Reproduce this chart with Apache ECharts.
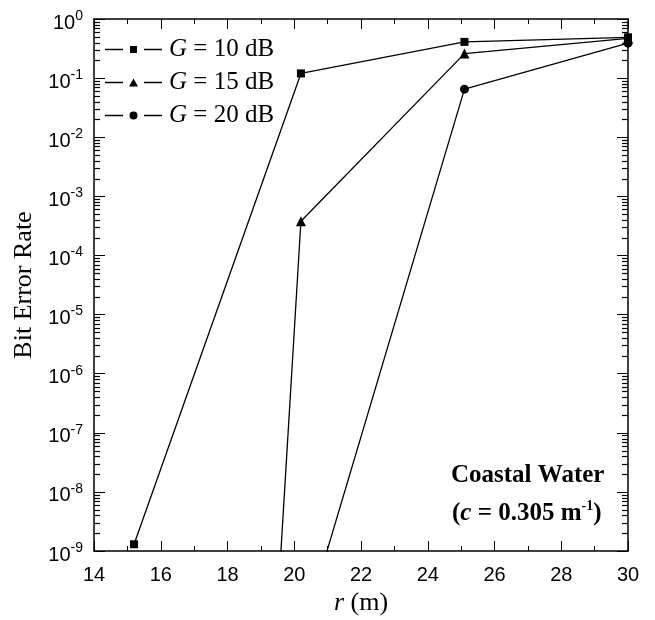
<!DOCTYPE html>
<html>
<head>
<meta charset="utf-8">
<script src="https://cdn.jsdelivr.net/npm/echarts@6/dist/echarts.min.js"></script>
<style>
  html, body { margin: 0; padding: 0; background: #fff; }
  #chart { width: 655px; height: 620px; }
</style>
</head>
<body>
<div id="chart"></div>
<script>
// distance r (m)
const rG10 = [15.2, 20.2, 25.1, 30]
const berG10 = [1.3e-9, 0.12, 0.41, 0.49]

const rG15 = [15.2, 20.2, 25.1, 30]
const berG15 = [1e-50, 3.8e-4, 0.26, 0.47]

const rG20 = [15.2, 20.2, 25.1, 30]
const berG20 = [1e-40, 3.3e-11, 0.065, 0.39]

const seriesNames = ['G = 10 dB', 'G = 15 dB', 'G = 20 dB']

const serif = '"Liberation Serif", "Times New Roman", serif'
const sans = '"Liberation Sans", Arial, sans-serif'

// legend icons: dash, symbol, dash
const iconRect = 'path://M0,3.3h18v1.4h-18z M25,0.5h7v7h-7z M39,3.3h18v1.4h-18z'
const iconTri = 'path://M0,3.3h18v1.4h-18z M28.5,0L33,8L24,8z M39,3.3h18v1.4h-18z'
const iconCircle = 'path://M0,3.3h18v1.4h-18z M24.5,4a4,4 0 1,0 8,0a4,4 0 1,0 -8,0z M39,3.3h18v1.4h-18z'

const chart = echarts.init(document.getElementById('chart'))

const pairs = (xs, ys) => xs.map((x, i) => [x, ys[i]])

const lineSeries = (name, data, symbol, size) => ({
  name,
  type: 'line',
  data,
  symbol,
  symbolSize: size,
  showAllSymbol: true,
  lineStyle: { color: '#000', width: 1.3 },
  itemStyle: { color: '#000' },
  emphasis: { disabled: true }
})

const axisLine = { show: true, lineStyle: { color: '#000', width: 1.5 } }

const option = {
  animation: false,
  grid: { left: 94, right: 27, top: 19, bottom: 69, outerBoundsMode: 'none' },
  legend: {
    left: 100,
    top: 32,
    orient: 'vertical',
    itemWidth: 57,
    itemHeight: 8,
    itemGap: 8,
    data: [
      { name: seriesNames[0], icon: iconRect },
      { name: seriesNames[1], icon: iconTri },
      { name: seriesNames[2], icon: iconCircle }
    ],
    formatter: (name) => '{i|G}{t|' + name.slice(1) + '}',
    textStyle: {
      rich: {
        i: { fontFamily: serif, fontStyle: 'italic', fontSize: 25, color: '#000', padding: [0, 0, 0, 2] },
        t: { fontFamily: serif, fontSize: 25, color: '#000' }
      }
    }
  },
  xAxis: [
    {
      type: 'value',
      min: 14,
      max: 30,
      interval: 2,
      name: '{i|r} (m)',
      nameLocation: 'middle',
      nameGap: 38,
      nameTextStyle: {
        fontFamily: serif,
        fontSize: 26,
        color: '#000',
        rich: { i: { fontFamily: serif, fontSize: 26, fontStyle: 'italic', color: '#000' } }
      },
      axisLine,
      axisTick: { show: true, inside: true, length: 10 },
      minorTick: { show: true, splitNumber: 2, length: 5 },
      splitLine: { show: false },
      axisLabel: { fontFamily: sans, fontSize: 20, color: '#000', margin: 14 }
    },
    {
      type: 'value',
      position: 'top',
      min: 14,
      max: 30,
      interval: 2,
      axisLine,
      axisTick: { show: true, inside: true, length: 10 },
      minorTick: { show: true, splitNumber: 2, length: 5 },
      splitLine: { show: false },
      axisLabel: { show: false }
    }
  ],
  yAxis: [
    {
      type: 'log',
      logBase: 10,
      min: 1e-9,
      max: 1,
      interval: 1,
      name: 'Bit Error Rate',
      nameLocation: 'middle',
      nameGap: 51,
      nameTextStyle: { fontFamily: serif, fontSize: 26, color: '#000' },
      axisLine,
      axisTick: { show: true, inside: true, length: 11 },
      splitLine: { show: false },
      axisLabel: {
        margin: 11,
        formatter: (v) => '{b|10}{s|' + Math.round(Math.log10(v)) + '}',
        rich: {
          b: { fontFamily: sans, fontSize: 20, color: '#000', padding: [8, 0, 0, 0] },
          s: { fontFamily: sans, fontSize: 14, color: '#000', padding: [0, 0, 6, 0] }
        }
      }
    },
    {
      type: 'log',
      logBase: 10,
      position: 'right',
      min: 1e-9,
      max: 1,
      interval: 1,
      axisLine,
      axisTick: { show: true, inside: true, length: 11 },
      splitLine: { show: false },
      axisLabel: { show: false }
    }
  ],
  series: [
    lineSeries(seriesNames[0], pairs(rG10, berG10), 'rect', 8),
    lineSeries(seriesNames[1], pairs(rG15, berG15), 'triangle', 10),
    lineSeries(seriesNames[2], pairs(rG20, berG20), 'circle', 9)
  ]
}

chart.setOption(option)

// log-spaced minor ticks (2..9 per decade) on both y axes
const gridLeft = 94
const gridRight = 655 - 27
const extra = []
for (let k = -9; k < 0; k++) {
  for (let m = 2; m <= 9; m++) {
    const y = Math.round(chart.convertToPixel({ yAxisIndex: 0 }, m * Math.pow(10, k))) + 0.5
    extra.push({
      type: 'line',
      z: 50,
      shape: { x1: gridLeft, y1: y, x2: gridLeft + 6, y2: y },
      style: { stroke: '#000', lineWidth: 1.2 }
    })
    extra.push({
      type: 'line',
      z: 50,
      shape: { x1: gridRight - 6, y1: y, x2: gridRight, y2: y },
      style: { stroke: '#000', lineWidth: 1.2 }
    })
  }
}

extra.push({
  type: 'text',
  left: 451,
  top: 463,
  style: {
    text: '{b|Coastal Water}',
    rich: { b: { fontFamily: serif, fontSize: 25, fontWeight: 'bold', fill: '#000' } }
  }
})
extra.push({
  type: 'text',
  left: 452,
  top: 499,
  style: {
    text: '{b|(}{i|c}{b| = 0.305 m}{s|-1}{b|)}',
    rich: {
      b: { fontFamily: serif, fontSize: 25, fontWeight: 'bold', fill: '#000', padding: [7, 0, 0, 0] },
      i: { fontFamily: serif, fontSize: 25, fontWeight: 'bold', fontStyle: 'italic', fill: '#000', padding: [7, 0, 0, 0] },
      s: { fontFamily: serif, fontSize: 14, fontWeight: 'bold', fill: '#000', padding: [0, 0, 9, 0] }
    }
  }
})

chart.setOption({ graphic: extra })
</script>
</body>
</html>
